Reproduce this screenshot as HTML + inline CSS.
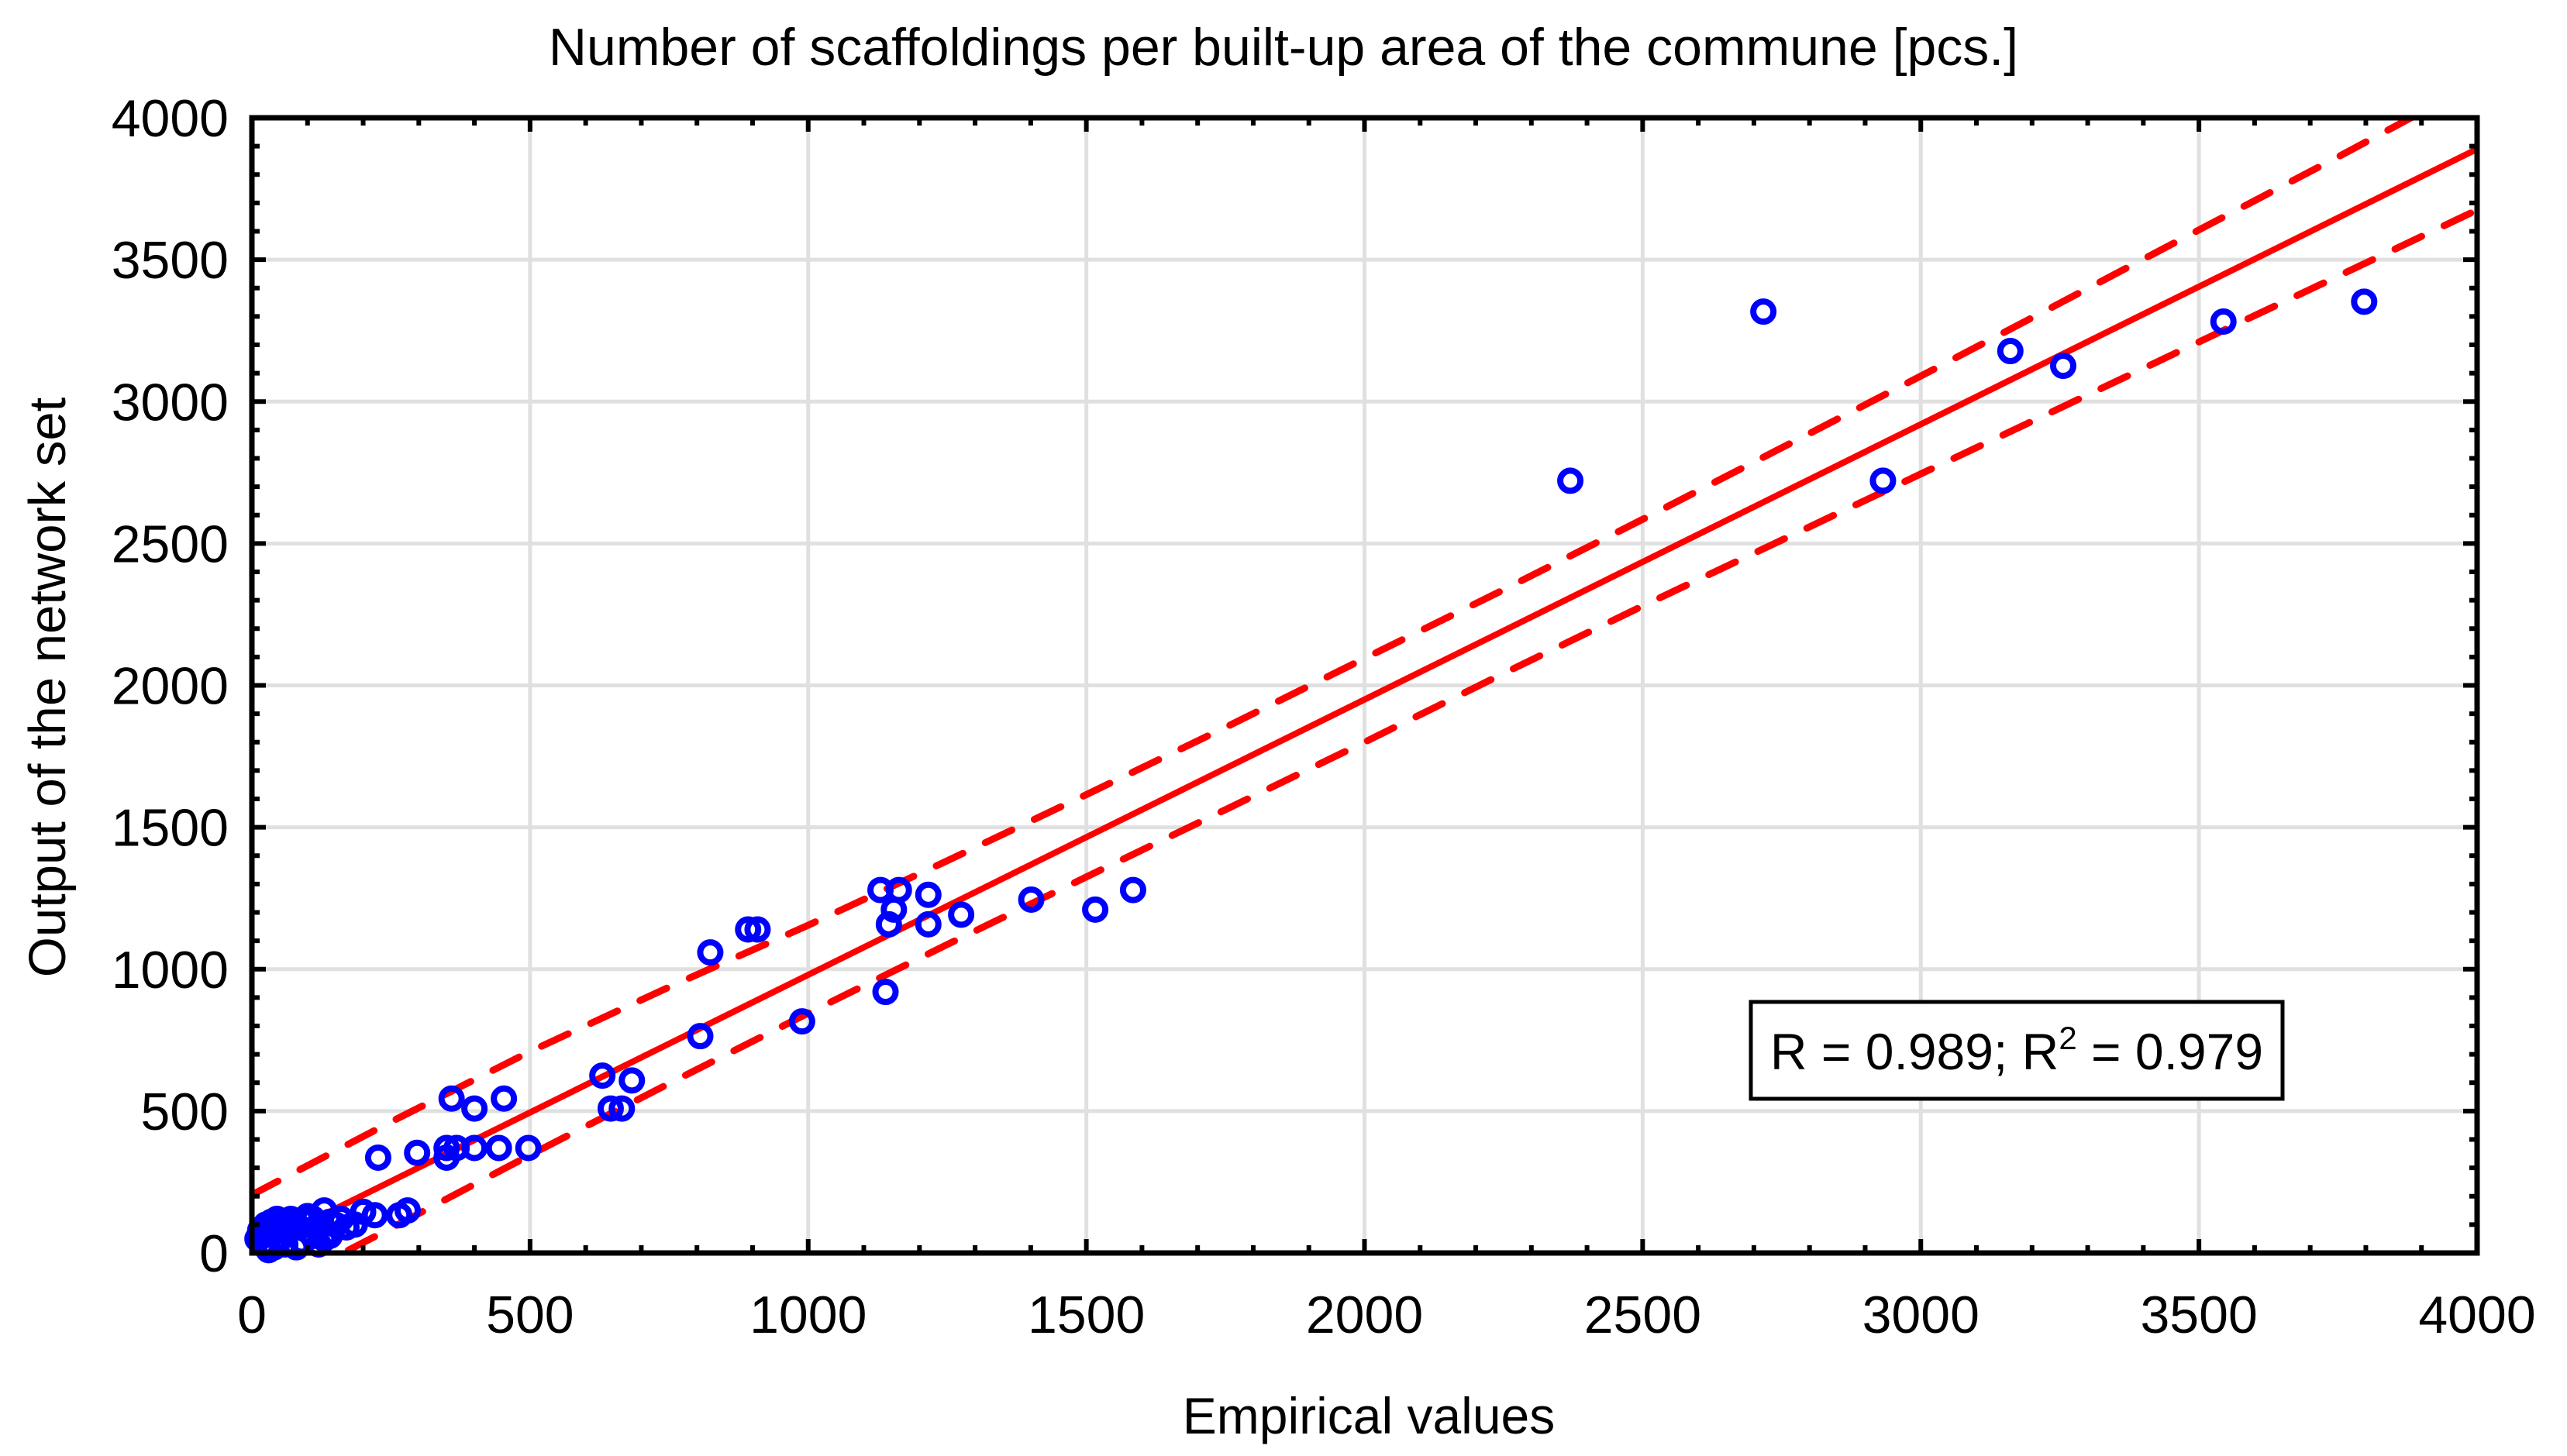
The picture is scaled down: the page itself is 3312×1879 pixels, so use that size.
<!DOCTYPE html>
<html><head><meta charset="utf-8"><style>
html,body{margin:0;padding:0;background:#fff}
svg{display:block;font-family:"Liberation Sans",Arial,sans-serif}
</style></head><body>
<svg id="chart" width="3312" height="1879" viewBox="0 0 3312 1879" xmlns="http://www.w3.org/2000/svg">
<rect x="0" y="0" width="3312" height="1879" fill="#fff"/>
<g id="grid"></g>
<g id="bands"></g>
<g id="points"></g>
<g id="axes"></g>
<text x="1656" y="84" font-size="68" text-anchor="middle">Number of scaffoldings per built-up area of the commune [pcs.]</text>
<text x="1766" y="1850" font-size="66" text-anchor="middle">Empirical values</text>
<text transform="translate(84,887) rotate(-90)" font-size="67" text-anchor="middle">Output of the network set</text>
<g>
<rect x="2259" y="1293" width="686" height="125" fill="#fff" stroke="#000" stroke-width="5"/>
<text x="2602" y="1380" font-size="66" text-anchor="middle">R = 0.989; R<tspan dy="-26" font-size="42">2</tspan><tspan dy="26"> = 0.979</tspan></text>
</g>
</svg>
<script>
const xTicks=[0,500,1000,1500,2000,2500,3000,3500,4000];
const yTicks=[0,500,1000,1500,2000,2500,3000,3500,4000];
const empirical=[2717,2370,2932,3161,3256,3544,3797,1584,1516,1401,1275,1216,1216,1163,1130,1154,1145,1139,989,909,892,824,806,683,630,665,645,497,453,444,400,400,359,368,350,350,297,227,280,265,221,200,185,160,140,130,120,110,100,95,85,75,70,60,55,50,45,40,35,30,25,20,15,10,130,120,110,90,80,60,50,40,30,20,150,140,170];
const network=[3317,2721,2721,3178,3126,3282,3352,1279,1210,1245,1192,1262,1158,1279,1279,1210,1158,920,816,1140,1140,1059,764,608,625,509,509,370,544,370,509,370,544,370,336,370,353,336,150,133,133,145,100,120,110,150,100,120,130,110,90,100,120,110,80,100,120,90,110,70,100,60,80,50,50,30,60,40,20,30,50,20,10,30,100,60,90];
const fitX=[0,4000];
const fitY=[10,3890];
const bandX=[0,250,500,750,1000,1250,1500,1750,2000,2250,2500,2750,3000,3250,3500,3750,4000];
const upperY=[205,462,710,937,1155,1382,1615,1852,2095,2337,2585,2837,3090,3347,3605,3862,4125];
const lowerY=[-165,87,345,597,845,1087,1325,1562,1800,2042,2280,2512,2745,2977,3210,3442,3675];

const L=325,R=3196,T=152,B=1617;
const sx=v=>L+(v/4000)*(R-L);
const sy=v=>B-(v/4000)*(B-T);
const NS="http://www.w3.org/2000/svg";
function mk(tag,attrs,parent){const e=document.createElementNS(NS,tag);for(const k in attrs)e.setAttribute(k,attrs[k]);parent.appendChild(e);return e;}
const grid=document.getElementById('grid'),axes=document.getElementById('axes'),bands=document.getElementById('bands'),pts=document.getElementById('points');

xTicks.forEach(t=>{
  if(t>0&&t<4000){const g=mk('line',{x1:sx(t),x2:sx(t),y1:T,y2:B,stroke:'#e0e0e0','stroke-width':5},grid);
  
  }
  const lb=mk('text',{x:sx(t),y:1720,'font-size':68,'text-anchor':'middle'},axes);lb.textContent=t;
  
  
});
yTicks.forEach(t=>{
  if(t>0&&t<4000){const g=mk('line',{x1:L,x2:R,y1:sy(t),y2:sy(t),stroke:'#e0e0e0','stroke-width':5},grid);
  
  }
  const lb=mk('text',{x:295,y:sy(t)+24,'font-size':68,'text-anchor':'end'},axes);lb.textContent=t;
  
  
});
for(let v=0;v<=4000;v+=100){
  const big=v%500===0?18:10;
  mk('line',{x1:sx(v),x2:sx(v),y1:B,y2:B-big,stroke:'#000','stroke-width':6},axes);
  mk('line',{x1:sx(v),x2:sx(v),y1:T,y2:T+big,stroke:'#000','stroke-width':6},axes);
  mk('line',{x1:L,x2:L+big,y1:sy(v),y2:sy(v),stroke:'#000','stroke-width':6},axes);
  mk('line',{x1:R,x2:R-big,y1:sy(v),y2:sy(v),stroke:'#000','stroke-width':6},axes);
}
const frame=mk('rect',{x:L,y:T,width:R-L,height:B-T,fill:'none',stroke:'#000','stroke-width':7},axes);



const clip=mk('clipPath',{id:'pc'},document.getElementById('chart'));
mk('rect',{x:L,y:T,width:R-L,height:B-T},clip);
bands.setAttribute('clip-path','url(#pc)');
function pathFrom(xs,ys){return xs.map((x,i)=>(i?'L':'M')+sx(x).toFixed(1)+','+sy(ys[i]).toFixed(1)).join(' ');}
const up=mk('path',{d:pathFrom(bandX,upperY),fill:'none',stroke:'#ff0000','stroke-width':9,'stroke-dasharray':'38,32','stroke-linecap':'round'},bands);


const lo=mk('path',{d:pathFrom(bandX,lowerY),fill:'none',stroke:'#ff0000','stroke-width':9,'stroke-dasharray':'38,32','stroke-linecap':'round'},bands);


const fit=mk('path',{d:pathFrom(fitX,fitY),fill:'none',stroke:'#ff0000','stroke-width':8},bands);



empirical.forEach((x,i)=>{
  const c=mk('circle',{cx:sx(x),cy:sy(network[i]),r:13,fill:'none',stroke:'#0000ff','stroke-width':8},pts);
  
  
});
</script>
</body></html>
